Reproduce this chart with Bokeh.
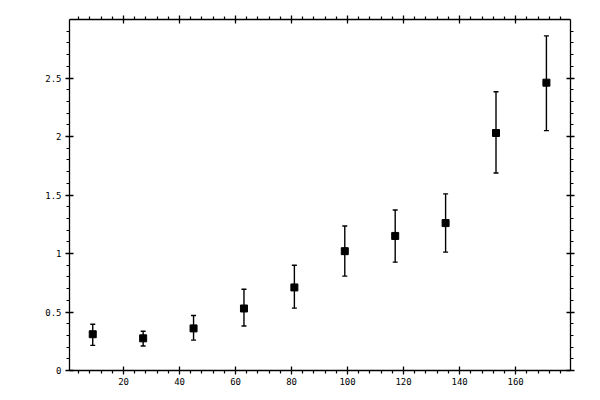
from bokeh.plotting import figure
from bokeh.models import (ColumnDataSource, Range1d, LinearAxis, FixedTicker,
                          Whisker, TeeHead)
from bokeh.embed import file_html
from bokeh.resources import INLINE

# data
x_vals = [9, 27, 45, 63, 81, 99, 117, 135, 153, 171]
y_vals = [0.31, 0.275, 0.36, 0.53, 0.71, 1.02, 1.15, 1.26, 2.03, 2.46]
y_upper = [0.395, 0.335, 0.47, 0.695, 0.90, 1.235, 1.372, 1.51, 2.382, 2.86]
y_lower = [0.215, 0.21, 0.26, 0.38, 0.533, 0.807, 0.926, 1.012, 1.688, 2.05]

x_major = [20, 40, 60, 80, 100, 120, 140, 160]
x_minor = [v for v in range(4, 180, 4) if v % 20 != 0]
y_major = [0, 0.5, 1, 1.5, 2, 2.5]
y_minor = [round(i * 0.1, 1) for i in range(0, 31) if i % 5 != 0]

src = ColumnDataSource(dict(x=x_vals, y=y_vals, upper=y_upper, lower=y_lower))

p = figure(frame_width=501, frame_height=351,
           x_range=Range1d(0.7, 179.6), y_range=Range1d(0, 3),
           output_backend="svg", toolbar_location=None,
           min_border_left=69, min_border_top=19, min_border_right=12,
           min_border_bottom=12,
           x_axis_location=None, y_axis_location=None,
           background_fill_color="white", border_fill_color="white",
           outline_line_color=None)
p.xgrid.visible = False
p.ygrid.visible = False

FONT = "DejaVu Sans Mono"

def style(ax, labels=True):
    ax.axis_line_color = "black"
    ax.axis_line_width = 1.3
    ax.major_tick_in = 4
    ax.major_tick_out = 4
    ax.minor_tick_in = 0
    ax.minor_tick_out = 3
    ax.major_tick_line_color = "black"
    ax.minor_tick_line_color = "black"
    ax.major_tick_line_width = 1.3
    ax.minor_tick_line_width = 1.2
    ax.major_label_text_font = FONT
    ax.major_label_text_font_size = "9px"
    ax.major_label_text_color = "black"
    ax.major_label_standoff = 3
    if not labels:
        ax.major_label_text_alpha = 0
        ax.major_label_text_font_size = "1px"
        ax.major_label_standoff = 0

xt = FixedTicker(ticks=x_major, minor_ticks=x_minor)
yt = FixedTicker(ticks=y_major, minor_ticks=y_minor)

xb = LinearAxis(ticker=xt); style(xb)
xa = LinearAxis(ticker=xt); style(xa, False)
yl = LinearAxis(ticker=yt); style(yl)
yl.major_label_standoff = 4
yr = LinearAxis(ticker=yt); style(yr, False)
p.add_layout(xb, "below")
p.add_layout(xa, "above")
p.add_layout(yl, "left")
p.add_layout(yr, "right")

w = Whisker(source=src, base="x", upper="upper", lower="lower",
            line_color="black", line_width=1.4,
            upper_head=TeeHead(size=5, line_color="black", line_width=1.4),
            lower_head=TeeHead(size=5, line_color="black", line_width=1.4))
p.add_layout(w)

p.scatter("x", "y", source=src, marker="square", size=7,
          fill_color="black", line_color="black")

open("out.html", "w").write(file_html(p, INLINE))
